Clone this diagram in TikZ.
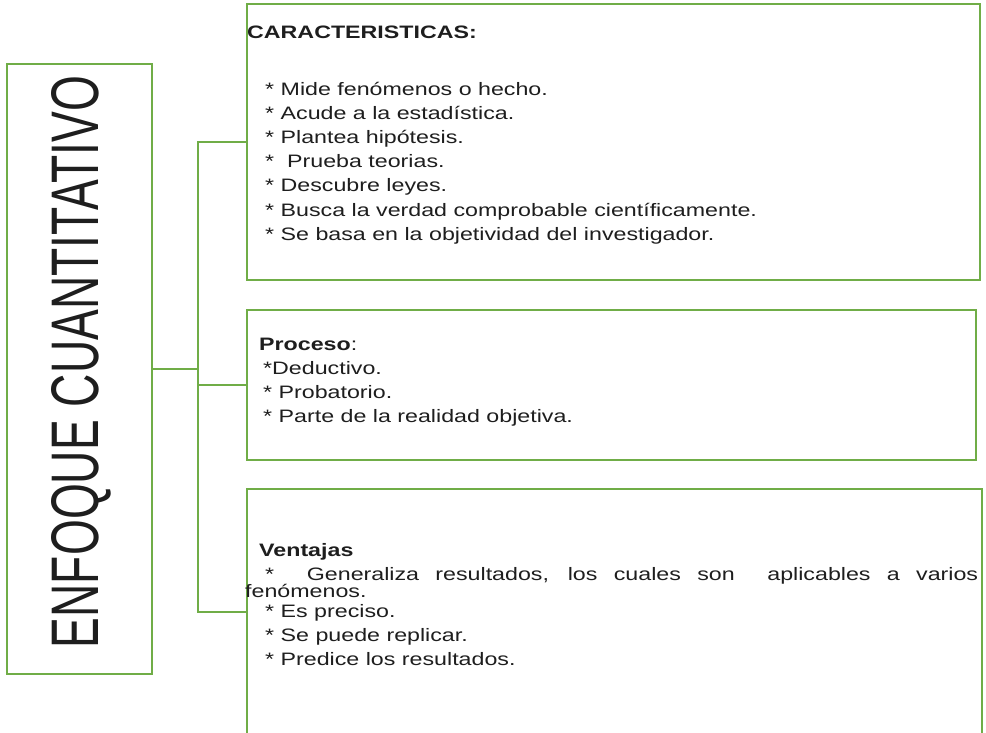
\documentclass[tikz,border=0pt]{standalone}
\usepackage{fontspec}
\setmainfont{Liberation Sans}[FakeStretch=1.29]
\newfontfamily\titlef{Liberation Sans}
\definecolor{grn}{RGB}{112,173,71}
\definecolor{ink}{RGB}{30,30,30}
\begin{document}
\begin{tikzpicture}[x=1pt,y=-1pt,
  box/.style={draw=grn, line width=1.6pt, inner sep=0, anchor=north west},
  conn/.style={draw=grn, line width=1.6pt},
  txt/.style={anchor=base west, inner sep=0, text=ink, font=\fontsize{18}{20}\selectfont}]
\useasboundingbox[fill=white] (0,0) rectangle (986,732);
% boxes
\node[box, minimum width=145pt, minimum height=610pt] (enf) at (6,63) {};
\node[box, minimum width=733pt, minimum height=276pt] (car) at (246,3) {};
\node[box, minimum width=729pt, minimum height=150pt] (pro) at (246,309) {};
\node[box, minimum width=735pt, minimum height=246pt] (ven) at (246,488) {};
% title
\node[rotate=90, inner sep=0, anchor=base, text=ink] (title) at (98,362)
  {\resizebox{572pt}{47pt}{\titlef ENFOQUE CUANTITATIVO}};
% connectors
\coordinate (jx) at (198,0);
\draw[conn] (enf.east) -- (enf.east -| jx);
\draw[conn] (car.west) -- (car.west -| jx) -- (ven.west -| jx) -- (ven.west);
\draw[conn] (pro.west) -- (pro.west -| jx);
% box 1 text
\node[txt] (c0) at (247,38) {\bfseries CARACTERISTICAS:};
\node[txt] (c1) at (265,95) {* Mide fenómenos o hecho.};
\node[txt] (c2) at (265,119.2) {* Acude a la estadística.};
\node[txt] (c3) at (265,143.4) {* Plantea hipótesis.};
\node[txt] (c4) at (265,167.6) {*\ \ Prueba teorias.};
\node[txt] (c5) at (265,191.8) {* Descubre leyes.};
\node[txt] (c6) at (265,216) {* Busca la verdad comprobable científicamente.};
\node[txt] (c7) at (265,240.2) {* Se basa en la objetividad del investigador.};
% box 2 text
\node[txt] (p0) at (259,350) {{\bfseries Proceso}:};
\node[txt] (p1) at (263,374) {*Deductivo.};
\node[txt] (p2) at (263,398) {* Probatorio.};
\node[txt] (p3) at (263,422) {* Parte de la realidad objetiva.};
% box 3 text
\node[txt] (v0) at (259,556) {\bfseries Ventajas};
\node[txt] (v1) at (265,580) {\makebox[713pt][s]{* \ Generaliza resultados, los cuales son \ aplicables a varios}};
\node[txt] (v2) at (245,597) {fenómenos.};
\node[txt] (v3) at (265,617) {* Es preciso.};
\node[txt] (v4) at (265,641) {* Se puede replicar.};
\node[txt] (v5) at (265,665) {* Predice los resultados.};
\end{tikzpicture}
\end{document}
